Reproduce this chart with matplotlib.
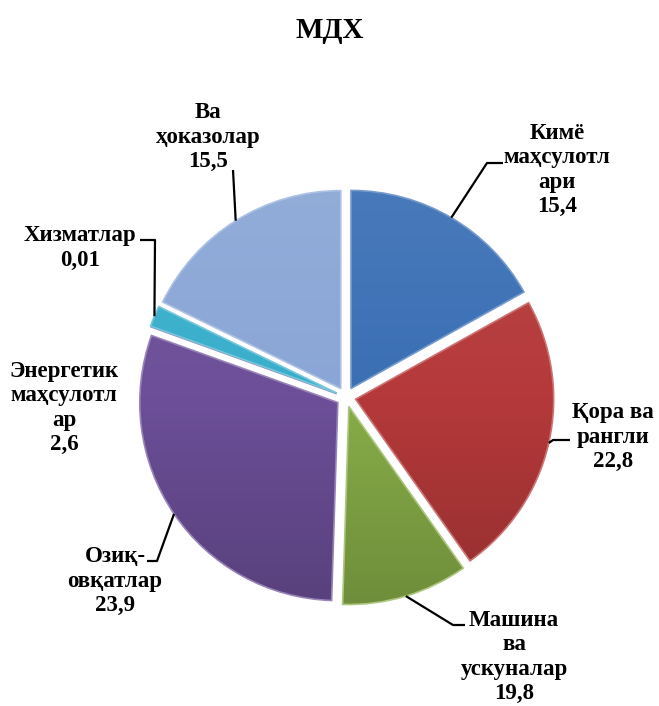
import numpy as np
import matplotlib.pyplot as plt
from matplotlib.patches import Wedge
from matplotlib.colors import LinearSegmentedColormap, to_rgb

plt.rcParams['font.family'] = ['Liberation Serif', 'DejaVu Serif']

# Data
title = 'МДХ'
categories = ['Кимё\nмаҳсулотл\nари', 'Қора ва\nрангли', 'Машина\nва\nускуналар',
              'Озиқ-\nовқатлар', 'Энергетик\nмаҳсулотл\nар', 'Хизматлар', 'Ва\nҳоказолар']
label_values = [15.4, 22.8, 19.8, 23.9, 2.6, 0.01, 15.5]
# slice shares as drawn in the picture (percent of the circle)
slice_shares = [16.9, 23.3, 10.3, 30.0, 0.0, 1.7, 17.8]
colors = ['#3A6FB5', '#B5393A', '#88AD48', '#6C4F98', '#6C4F98', '#38AECB', '#8AA6D6']

# layout in pixels of the 659x706 image
W, H = 659, 706
CX, CY, R_PX = 346, 397, 198
label_pos = [(557, 170), (613, 437), (514, 657), (115, 581), (64, 408), (80, 248), (208, 137)]
ticks = [((503, 163), (487, 163)), ((570, 440), (553, 440)), ((465, 625), (453, 625)),
         ((147, 561), (157, 561)), None, ((140, 240), (155, 240)), ((233, 170), (233, 170))]


def px(x, y):
    return (x - CX) / R_PX, (CY - y) / R_PX


def shade(c, f):
    c = np.array(to_rgb(c))
    return tuple(c + (1 - c) * f) if f > 0 else tuple(c * (1 + f))


fig = plt.figure(figsize=(W / 100, H / 100), dpi=100)
ax = fig.add_axes([0, 0, 1, 1])

wedges, _ = ax.pie(slice_shares, colors=colors, startangle=90, counterclock=False,
                   explode=[0.05] * len(slice_shares), radius=1.0,
                   wedgeprops=dict(linewidth=0))

grad = np.linspace(0, 1, 256).reshape(-1, 1)
for w, c in zip(wedges, colors):
    cmap = LinearSegmentedColormap.from_list('s', [shade(c, -0.2), c, shade(c, 0.08)])
    im = ax.imshow(grad, extent=(-1.15, 1.15, -1.15, 1.15), origin='lower',
                   cmap=cmap, aspect='auto', zorder=2)
    im.set_clip_path(w)
    ax.add_patch(Wedge(w.center, w.r, w.theta1, w.theta2, facecolor='none',
                       edgecolor=shade(c, 0.3), linewidth=1.2, zorder=3))

for i, w in enumerate(wedges):
    txt = categories[i] + '\n' + f'{label_values[i]:g}'.replace('.', ',')
    tx, ty = px(*label_pos[i])
    ax.text(tx, ty, txt, ha='center', va='center', multialignment='center',
            fontsize=16.5, fontweight='bold', linespacing=1.2, zorder=5)
    if ticks[i] is None:
        continue
    mid = np.deg2rad((w.theta1 + w.theta2) / 2)
    target = (w.center[0] + w.r * np.cos(mid), w.center[1] + w.r * np.sin(mid))
    p0, p1 = px(*ticks[i][0]), px(*ticks[i][1])
    ax.plot([p0[0], p1[0], target[0]], [p0[1], p1[1], target[1]],
            color='black', linewidth=1.6, zorder=4, solid_capstyle='butt')

ax.set_xlim(-CX / R_PX, (W - CX) / R_PX)
ax.set_ylim((CY - H) / R_PX, CY / R_PX)
ax.set_aspect('auto')
ax.axis('off')

fig.text(0.5, 1 - 30 / H, title, ha='center', va='center', fontsize=21, fontweight='bold')

fig.savefig('out.png', dpi=100)
